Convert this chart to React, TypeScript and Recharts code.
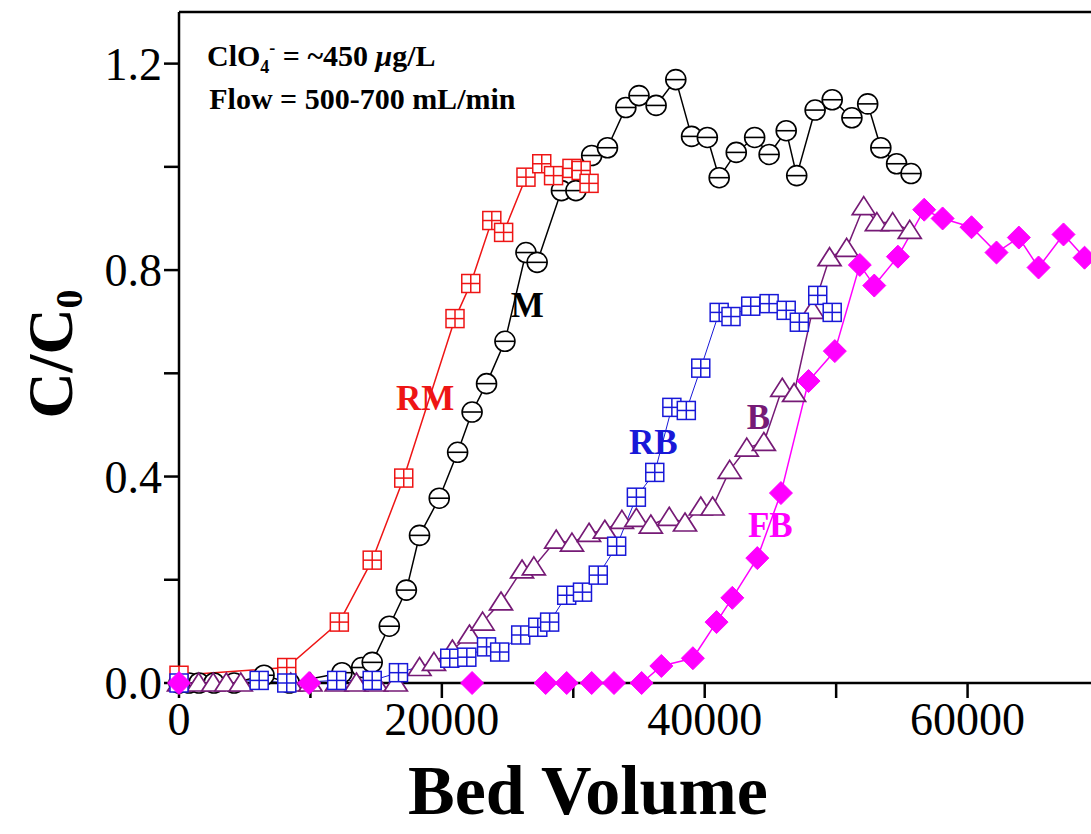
import React from 'react'
import { LineChart, Line, XAxis, YAxis, ReferenceDot } from 'recharts'

// bed volume (x) and C/C0 (y) for every column
const mX = [0, 760, 1520, 2660, 4190, 6470, 8400, 12400, 13900, 14700, 16000, 17300, 18300, 19800, 21200, 22300, 23400, 24800, 26400, 27250, 29100, 30200, 31400, 32600, 34000, 35000, 36300, 37800, 39000, 40200, 41100, 42400, 43800, 44900, 46200, 47000, 48400, 49700, 51200, 52400, 53400, 54600, 55700]
const mY = [0, 0, 0, 0, 0, 0.015, 0, 0.02, 0.03, 0.04, 0.11, 0.18, 0.286, 0.358, 0.447, 0.525, 0.58, 0.662, 0.834, 0.815, 0.954, 0.954, 1.022, 1.037, 1.115, 1.138, 1.119, 1.169, 1.059, 1.057, 0.979, 1.028, 1.057, 1.024, 1.07, 0.983, 1.11, 1.13, 1.095, 1.122, 1.037, 1.006, 0.987]

const rmX = [0, 8200, 12200, 14700, 17100, 21000, 22200, 23800, 24700, 26400, 27600, 28500, 29900, 30600, 31200]
const rmY = [0.015, 0.03, 0.118, 0.238, 0.397, 0.706, 0.774, 0.896, 0.873, 0.98, 1.006, 0.983, 0.997, 0.993, 0.968]

const rbX = [0, 6100, 8200, 12000, 14700, 16700, 20600, 21900, 23400, 24400, 26000, 27300, 28200, 29500, 30700, 31900, 33300, 34800, 36200, 37500, 38600, 39700, 41100, 42000, 43500, 44900, 46200, 47200, 48600, 49700]
const rbY = [0, 0.005, 0, 0.005, 0.005, 0.02, 0.048, 0.05, 0.07, 0.06, 0.093, 0.108, 0.118, 0.17, 0.176, 0.209, 0.265, 0.36, 0.408, 0.534, 0.528, 0.61, 0.718, 0.71, 0.73, 0.735, 0.722, 0.699, 0.751, 0.718]

const bX = [0, 1500, 2600, 3600, 4700, 8500, 10000, 12000, 13500, 15000, 16500, 18300, 19400, 20800, 22100, 23100, 24500, 26100, 27000, 28700, 29900, 31200, 32400, 33700, 34800, 35900, 37300, 38500, 39700, 40600, 41900, 43200, 44500, 45900, 46800, 48200, 49500, 50800, 52100, 53100, 54300, 55600]
const bY = [0, 0, 0, 0, 0, 0, 0, 0, 0, 0, 0, 0.03, 0.04, 0.064, 0.093, 0.118, 0.157, 0.219, 0.225, 0.277, 0.271, 0.29, 0.296, 0.315, 0.319, 0.306, 0.321, 0.31, 0.341, 0.341, 0.412, 0.455, 0.466, 0.571, 0.561, 0.722, 0.824, 0.842, 0.923, 0.892, 0.892, 0.877]

const fbX = [0, 9900, 22300, 27900, 29500, 31400, 33100, 35200, 36700, 39100, 40900, 42100, 44000, 45800, 47900, 49900, 51800, 52900, 54700, 56700, 58100, 60300, 62200, 63900, 65400, 67300, 68900]
const fbY = [0, 0, 0, 0, 0, 0, 0, 0, 0.033, 0.048, 0.118, 0.165, 0.242, 0.368, 0.585, 0.643, 0.81, 0.77, 0.826, 0.917, 0.9, 0.883, 0.834, 0.863, 0.805, 0.869, 0.824]

const xTicks = [0, 10000, 20000, 30000, 40000, 50000, 60000, 70000]
const yTicks = [0, 0.2, 0.4, 0.6, 0.8, 1.0, 1.2]

const toPts = (xs: number[], ys: number[]) => xs.map((x, i) => ({ x, y: ys[i] }))

const RED = '#ee1515'
const BLUE = '#1818d8'
const PURPLE = '#761a76'
const MAGENTA = '#ff00ff'
const FONT = "'Liberation Serif', 'Times New Roman', serif"

const theta = (p: any) => (
  <g key={`m${p.index}`}>
    <circle cx={p.cx} cy={p.cy} r={10} fill="#fff" stroke="#000" strokeWidth={1.6} />
    <line x1={p.cx - 10} x2={p.cx + 10} y1={p.cy} y2={p.cy} stroke="#000" strokeWidth={1.6} />
  </g>
)

const boxCross = (color: string, tag: string) => (p: any) => (
  <g key={`${tag}${p.index}`}>
    <rect x={p.cx - 9} y={p.cy - 9} width={18} height={18} fill="#fff" stroke={color} strokeWidth={1.5} />
    <line x1={p.cx - 9} x2={p.cx + 9} y1={p.cy} y2={p.cy} stroke={color} strokeWidth={1.5} />
    <line x1={p.cx} x2={p.cx} y1={p.cy - 9} y2={p.cy + 9} stroke={color} strokeWidth={1.5} />
  </g>
)

const triangle = (p: any) => (
  <polygon
    key={`b${p.index}`}
    points={`${p.cx},${p.cy - 10} ${p.cx + 11.5},${p.cy + 8} ${p.cx - 11.5},${p.cy + 8}`}
    fill="#fff"
    stroke={PURPLE}
    strokeWidth={1.7}
  />
)

const diamond = (p: any) => (
  <polygon
    key={`f${p.index}`}
    points={`${p.cx},${p.cy - 11.5} ${p.cx + 11.5},${p.cy} ${p.cx},${p.cy + 11.5} ${p.cx - 11.5},${p.cy}`}
    fill={MAGENTA}
    stroke={MAGENTA}
  />
)

const seriesLabels = [
  { text: 'RM', x: 18730, y: 0.553, color: RED },
  { text: 'M', x: 26490, y: 0.732, color: '#000' },
  { text: 'RB', x: 36090, y: 0.466, color: BLUE },
  { text: 'B', x: 44080, y: 0.515, color: PURPLE },
  { text: 'FB', x: 44990, y: 0.306, color: MAGENTA },
]

const App = () => {
  return (
    <div style={{ position: 'absolute', left: 8, top: 8, width: 1083, height: 826, overflow: 'hidden' }}>
      <LineChart width={1096} height={826} margin={{ top: 4, right: 5, left: 0, bottom: 0 }}>
        <XAxis
          type="number"
          dataKey="x"
          domain={[0, 70000]}
          ticks={xTicks}
          height={151}
          tickSize={15}
          tickMargin={4}
          tickFormatter={(v: number) => (v % 20000 === 0 ? String(v) : '')}
          tick={{ fill: '#000', fontSize: 46, fontFamily: FONT }}
          axisLine={{ stroke: '#000', strokeWidth: 2.5 }}
          tickLine={{ stroke: '#000', strokeWidth: 2.5 }}
          label={() => (
            <text x={580} y={806} textAnchor="middle" fontSize={70} fontWeight="bold" fontFamily={FONT} fill="#000">
              Bed Volume
            </text>
          )}
        />
        <XAxis
          xAxisId="top"
          orientation="top"
          type="number"
          dataKey="x"
          domain={[0, 70000]}
          ticks={xTicks}
          mirror
          tickSize={15}
          tick={false}
          axisLine={{ stroke: '#000', strokeWidth: 2.5 }}
          tickLine={{ stroke: '#000', strokeWidth: 2.5 }}
        />
        <YAxis
          type="number"
          domain={[0, 1.3]}
          ticks={yTicks}
          width={171}
          tickSize={15}
          tickMargin={2}
          tickFormatter={(v: number) => ([0, 0.4, 0.8, 1.2].includes(v) ? v.toFixed(1) : '')}
          tick={{ fill: '#000', fontSize: 46, fontFamily: FONT }}
          axisLine={{ stroke: '#000', strokeWidth: 2.5 }}
          tickLine={{ stroke: '#000', strokeWidth: 2.5 }}
          label={() => (
            <text transform="translate(64, 346) rotate(-90)" textAnchor="middle" fontSize={64} fontWeight="bold" fontFamily={FONT} fill="#000">
              C/C<tspan fontSize={38} dy={10}>0</tspan>
            </text>
          )}
        />
        <YAxis
          yAxisId="right"
          orientation="right"
          type="number"
          domain={[0, 1.3]}
          ticks={yTicks}
          mirror
          tickSize={15}
          tick={false}
          axisLine={{ stroke: '#000', strokeWidth: 2.5 }}
          tickLine={{ stroke: '#000', strokeWidth: 2.5 }}
        />
        <Line data={toPts(mX, mY)} dataKey="y" stroke="#000" strokeWidth={1.5} dot={theta} isAnimationActive={false} />
        <Line data={toPts(rmX, rmY)} dataKey="y" stroke={RED} strokeWidth={1.5} dot={boxCross(RED, 'rm')} isAnimationActive={false} />
        <Line data={toPts(bX, bY)} dataKey="y" stroke={PURPLE} strokeWidth={1.5} dot={triangle} isAnimationActive={false} />
        <Line data={toPts(rbX, rbY)} dataKey="y" stroke={BLUE} strokeWidth={1} dot={boxCross(BLUE, 'rb')} isAnimationActive={false} />
        <Line data={toPts(fbX, fbY)} dataKey="y" stroke={MAGENTA} strokeWidth={1.5} dot={diamond} isAnimationActive={false} />
        {seriesLabels.map((s) => (
          <ReferenceDot
            key={s.text}
            x={s.x}
            y={s.y}
            r={0}
            stroke="none"
            label={(props: any) => (
              <text x={props.viewBox.x} y={props.viewBox.y} dy={12} textAnchor="middle" fontSize={35} fontWeight="bold" fontFamily={FONT} fill={s.color}>
                {s.text}
              </text>
            )}
          />
        ))}
        <ReferenceDot
          x={2130}
          y={1.196}
          r={0}
          stroke="none"
          label={(props: any) => (
            <text x={props.viewBox.x} y={props.viewBox.y} fontSize={30} fontWeight="bold" fontFamily={FONT} fill="#000">
              ClO<tspan fontSize={18} dy={7}>4</tspan>
              <tspan fontSize={18} dy={-19}>-</tspan>
              <tspan dy={12}> = ~450 </tspan>
              <tspan fontStyle="italic">μ</tspan>g/L
            </text>
          )}
        />
        <ReferenceDot
          x={2300}
          y={1.113}
          r={0}
          stroke="none"
          label={(props: any) => (
            <text x={props.viewBox.x} y={props.viewBox.y} fontSize={30} fontWeight="bold" fontFamily={FONT} fill="#000">
              Flow = 500-700 mL/min
            </text>
          )}
        />
      </LineChart>
    </div>
  )
}

export default App
